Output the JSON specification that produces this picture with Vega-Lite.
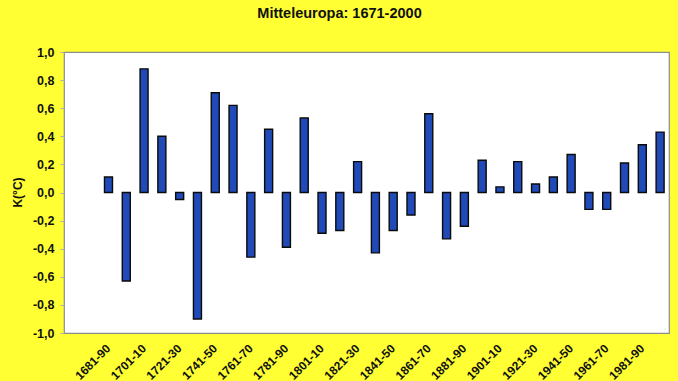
{
  "$schema": "https://vega.github.io/schema/vega-lite/v6.json",
  "autosize": "none",
  "width": 605,
  "height": 281,
  "padding": {"left": 64, "top": 52, "right": 9, "bottom": 48},
  "background": "#ffff33",
  "config": {
    "font": "Liberation Sans",
    "view": {"fill": "#ffffff", "stroke": "#8c8c8c", "strokeWidth": 1.2}
  },
  "title": {
    "text": "Mitteleuropa:  1671-2000",
    "font": "Liberation Sans",
    "fontSize": 14.5,
    "fontWeight": "bold",
    "color": "#111111",
    "anchor": "middle",
    "frame": "group",
    "dx": -27,
    "offset": 25
  },
  "data": {
    "values": [
      {"period": "1681-90", "dev": 0.11},
      {"period": "1691-00", "dev": -0.63},
      {"period": "1701-10", "dev": 0.88},
      {"period": "1711-20", "dev": 0.40},
      {"period": "1721-30", "dev": -0.05},
      {"period": "1731-40", "dev": -0.90},
      {"period": "1741-50", "dev": 0.71},
      {"period": "1751-60", "dev": 0.62},
      {"period": "1761-70", "dev": -0.46},
      {"period": "1771-80", "dev": 0.45},
      {"period": "1781-90", "dev": -0.39},
      {"period": "1791-00", "dev": 0.53},
      {"period": "1801-10", "dev": -0.29},
      {"period": "1811-20", "dev": -0.27},
      {"period": "1821-30", "dev": 0.22},
      {"period": "1831-40", "dev": -0.43},
      {"period": "1841-50", "dev": -0.27},
      {"period": "1851-60", "dev": -0.16},
      {"period": "1861-70", "dev": 0.56},
      {"period": "1871-80", "dev": -0.33},
      {"period": "1881-90", "dev": -0.24},
      {"period": "1891-00", "dev": 0.23},
      {"period": "1901-10", "dev": 0.04},
      {"period": "1911-20", "dev": 0.22},
      {"period": "1921-30", "dev": 0.06},
      {"period": "1931-40", "dev": 0.11},
      {"period": "1941-50", "dev": 0.27},
      {"period": "1951-60", "dev": -0.12},
      {"period": "1961-70", "dev": -0.12},
      {"period": "1971-80", "dev": 0.21},
      {"period": "1981-90", "dev": 0.34},
      {"period": "1991-00", "dev": 0.43}
    ]
  },
  "mark": {"type": "bar", "fill": "#1f4ab8", "stroke": "#0a0a0a", "strokeWidth": 1.4},
  "encoding": {
    "x": {
      "field": "period",
      "type": "ordinal",
      "sort": null,
      "scale": {
        "domain": ["1661-70", "1671-80", "1681-90", "1691-00", "1701-10", "1711-20", "1721-30", "1731-40", "1741-50", "1751-60", "1761-70", "1771-80", "1781-90", "1791-00", "1801-10", "1811-20", "1821-30", "1831-40", "1841-50", "1851-60", "1861-70", "1871-80", "1881-90", "1891-00", "1901-10", "1911-20", "1921-30", "1931-40", "1941-50", "1951-60", "1961-70", "1971-80", "1981-90", "1991-00"],
        "paddingInner": 0.55,
        "paddingOuter": 0.275
      },
      "axis": {
        "title": null,
        "domain": false,
        "ticks": false,
        "labelAngle": -45,
        "labelAlign": "right",
        "labelBaseline": "middle",
        "labelPadding": 13,
        "labelFont": "Liberation Sans",
        "labelFontSize": 12,
        "labelFontWeight": "bold",
        "labelColor": "#111111",
        "labelOverlap": false,
        "labelExpr": "(toNumber(slice(datum.value,0,4)) >= 1681 && (toNumber(slice(datum.value,0,4)) - 1681) % 20 == 0) ? datum.value : ''"
      }
    },
    "y": {
      "field": "dev",
      "type": "quantitative",
      "scale": {"domain": [-1, 1], "nice": false, "zero": true},
      "axis": {
        "title": "K(°C)",
        "titleFont": "Liberation Sans",
        "titleFontSize": 12,
        "titleFontWeight": "bold",
        "titleColor": "#111111",
        "titleX": -47,
        "titleY": 140,
        "titleAlign": "center",
        "titleBaseline": "middle",
        "titleAngle": -90,
        "values": [-1, -0.8, -0.6, -0.4, -0.2, 0, 0.2, 0.4, 0.6, 0.8, 1],
        "labelExpr": "(datum.value < -0.001 ? '-' : '') + replace(format(abs(datum.value), '.1f'), '.', ',')",
        "labelFont": "Liberation Sans",
        "labelFontSize": 12.5,
        "labelFontWeight": "bold",
        "labelColor": "#111111",
        "labelPadding": 6,
        "grid": false,
        "domain": false,
        "tickSize": 4,
        "tickColor": "#b0b0b0"
      }
    }
  }
}
